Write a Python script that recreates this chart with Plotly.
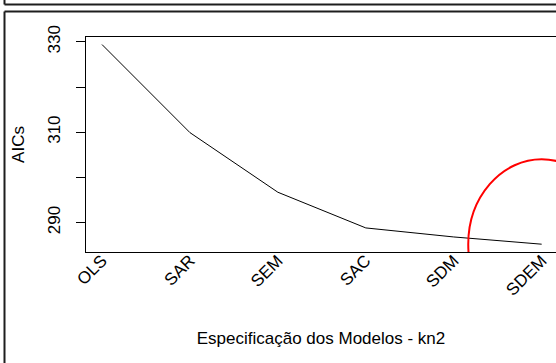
import plotly.graph_objects as go

# ---- data ----
models = ["OLS", "SAR", "SEM", "SAC", "SDM", "SDEM"]
aic_values = [329.4, 309.9, 296.7, 288.8, 286.8, 285.2]
y_tick_values = [290, 300, 310, 320, 330]
y_tick_labels = ["290", "", "310", "", "330"]
x_title = "Especificação dos Modelos - kn2"
y_title = "AICs"
highlight_model = "SDEM"
highlight_rx = 0.835   # in category units
highlight_ry = 18.8    # in AIC units

W, H = 556, 363
ML, MT, MB, MR = 86, 37, 111, 0
PW, PH = W - ML - MR, H - MT - MB

def px(xp):
    return (xp - ML) / PW

def py(yp):
    return 1 - (yp - MT) / PH

FONT = "Liberation Sans, Arial, sans-serif"

fig = go.Figure()
fig.add_trace(go.Scatter(x=models, y=aic_values, mode="lines",
                         line=dict(color="#000000", width=1), showlegend=False,
                         hoverinfo="skip"))

hi = models.index(highlight_model)
hy = aic_values[hi]
shapes = [
    dict(type="circle", xref="x", yref="y",
         x0=hi - highlight_rx, x1=hi + highlight_rx,
         y0=hy - highlight_ry, y1=hy + highlight_ry,
         line=dict(color="#ff0000", width=2)),
]
frame = dict(color="#1e1e1e", width=2)
shapes += [
    dict(type="line", xref="paper", yref="paper", x0=px(4.5), x1=px(4.5), y0=py(-2), y1=py(4.5), line=frame),
    dict(type="line", xref="paper", yref="paper", x0=px(4.5), x1=px(560), y0=py(4.5), y1=py(4.5), line=frame),
    dict(type="line", xref="paper", yref="paper", x0=px(4.5), x1=px(560), y0=py(11.5), y1=py(11.5), line=frame),
    dict(type="line", xref="paper", yref="paper", x0=px(4.5), x1=px(4.5), y0=py(11.5), y1=py(370), line=frame),
]

fig.update_layout(
    width=W, height=H,
    margin=dict(l=ML, r=MR, t=MT, b=MB, pad=0),
    paper_bgcolor="white", plot_bgcolor="white",
    font=dict(family=FONT, size=17, color="#000000"),
    shapes=shapes,
    xaxis=dict(type="category", range=[-0.182, 5.163],
               showgrid=False, zeroline=False,
               showline=True, linecolor="#000000", linewidth=1, mirror=True,
               ticks="", tickangle=-45, tickfont=dict(size=17),
               ticklabelstandoff=-9,
               title=dict(text=x_title, font=dict(size=17), standoff=33)),
    yaxis=dict(range=[283.47, 331.07],
               showgrid=False, zeroline=False,
               showline=True, linecolor="#000000", linewidth=1, mirror=False,
               ticks="outside", ticklen=9, tickcolor="#000000", tickwidth=1,
               tickvals=y_tick_values, ticktext=y_tick_labels,
               tickangle=-90, tickfont=dict(size=17), ticklabelstandoff=9,
               title=dict(text=y_title, font=dict(size=17), standoff=16)),
)

fig.write_html("out.html")
